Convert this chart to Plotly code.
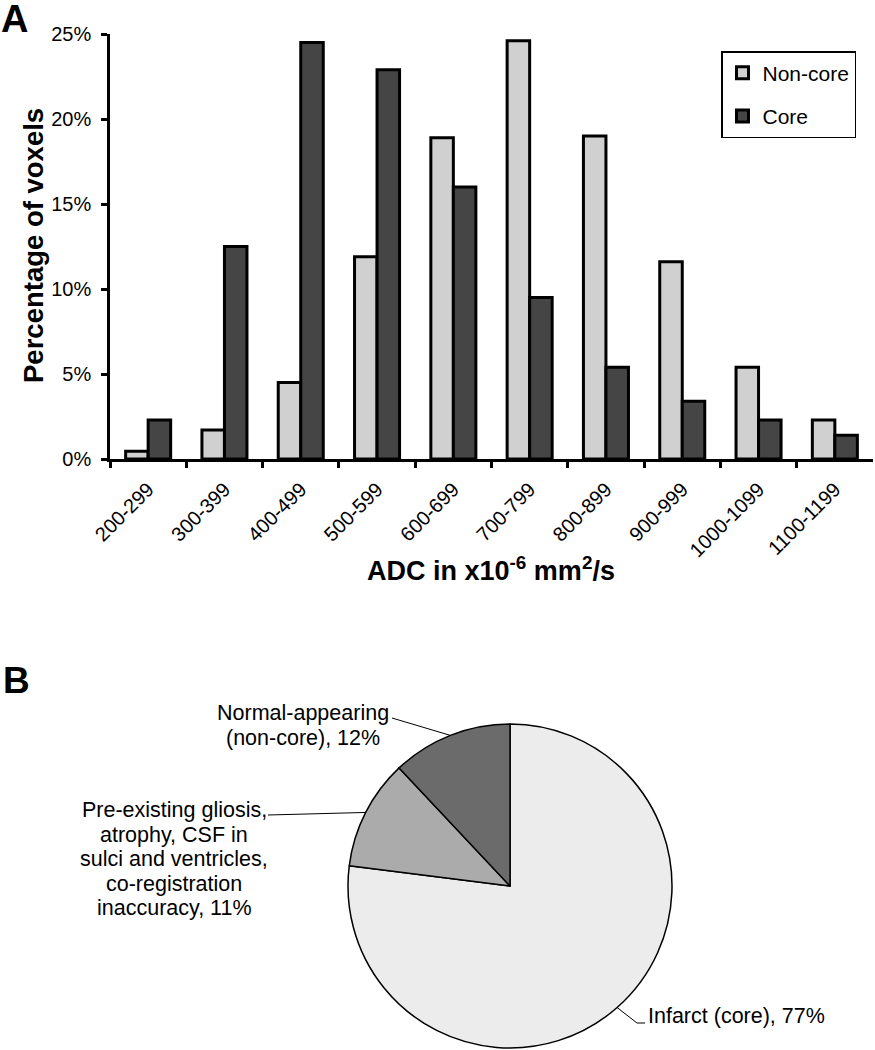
import math
import plotly.graph_objects as go

# ---- data ----
adc_bins = ["200-299", "300-399", "400-499", "500-599", "600-699",
            "700-799", "800-899", "900-999", "1000-1099", "1100-1199"]
non_core = [0.45, 1.7, 4.5, 11.9, 18.9, 24.6, 19.0, 11.6, 5.4, 2.3]
core = [2.3, 12.5, 24.5, 22.9, 16.0, 9.5, 5.4, 3.4, 2.3, 1.4]

slice_names = ["Infarct (core)",
               "Pre-existing gliosis, atrophy, CSF in sulci and ventricles, co-registration inaccuracy",
               "Normal-appearing (non-core)"]
slice_values = [77, 11, 12]
slice_label_lines = [
    ["Infarct (core), 77%"],
    ["Pre-existing gliosis,", "atrophy, CSF in", "sulci and ventricles,",
     "co-registration", "inaccuracy, 11%"],
    ["Normal-appearing", "(non-core), 12%"],
]

# ---- layout constants ----
W, H = 875, 1050
FONT = "Liberation Sans, Arial, sans-serif"
cx, cy, r = 510, 886, 162          # pie centre / radius in pixels
label_pos = [(646, 1016, "left"), (174, 810, "center"), (303, 713, "center")]
leader_end = [[(637, 1023), (645, 1023)], [(268, 815)], [(392, 718)]]
line_step = 24.5


def px(x):
    return x / W


def py(y):
    return 1 - y / H


fig = go.Figure()
fig.add_trace(go.Bar(x=adc_bins, y=non_core, name="Non-core", legendgroup="a",
                     marker=dict(color="#d0d0d0", line=dict(color="black", width=3))))
fig.add_trace(go.Bar(x=adc_bins, y=core, name="Core", legendgroup="b",
                     marker=dict(color="#454545", line=dict(color="black", width=3))))

fig.add_trace(go.Pie(labels=slice_names, values=slice_values, sort=False,
                     direction="clockwise", rotation=0, textinfo="none",
                     hoverinfo="label+percent", showlegend=False,
                     marker=dict(colors=["#ececec", "#ababab", "#6b6b6b"],
                                 line=dict(color="black", width=1.5)),
                     domain=dict(x=[px(cx - r), px(cx + r)], y=[py(cy + r), py(cy - r)])))

# leader lines from slice mid-angles, plus slice labels
shapes = []
annotations = []
total = sum(slice_values)
cum = 0
for i, v in enumerate(slice_values):
    theta = 2 * math.pi * (cum + v / 2) / total
    cum += v
    pts = [(cx + r * math.sin(theta), cy - r * math.cos(theta))] + leader_end[i]
    for (x0, y0), (x1, y1) in zip(pts[:-1], pts[1:]):
        shapes.append(dict(type="line", xref="paper", yref="paper",
                           x0=px(x0), y0=py(y0), x1=px(x1), y1=py(y1),
                           line=dict(color="black", width=1)))
    lx, ly, al = label_pos[i]
    for k, line in enumerate(slice_label_lines[i]):
        annotations.append(dict(text=line, xref="paper", yref="paper",
                                x=px(lx), y=py(ly + k * line_step),
                                xanchor=al, yanchor="middle", showarrow=False,
                                font=dict(size=21.5, color="black", family=FONT)))

annotations += [
    dict(text="<b>A</b>", x=px(-1), y=py(-4), xanchor="left", yanchor="top",
         font=dict(size=38)),
    dict(text="<b>B</b>", x=px(1), y=py(680), xanchor="left", yanchor="middle",
         font=dict(size=37)),
    dict(text="<b>Percentage of voxels</b>", x=px(33), y=py(246), textangle=-90,
         xanchor="center", yanchor="middle", font=dict(size=27.5)),
    dict(text="<b>ADC in x10<sup>-6</sup> mm<sup>2</sup>/s</b>", x=px(491), y=py(569),
         xanchor="center", yanchor="middle", font=dict(size=27)),
]
for a in annotations[-4:]:
    a.update(xref="paper", yref="paper", showarrow=False)
    a["font"].update(color="black", family=FONT)

fig.update_layout(
    width=W, height=H,
    margin=dict(l=0, r=0, t=0, b=0, autoexpand=False),
    paper_bgcolor="white", plot_bgcolor="white",
    font=dict(family=FONT, color="black", size=20),
    barmode="group", bargap=0.41, bargroupgap=0,
    xaxis=dict(domain=[px(110), px(873)], type="category", tickson="boundaries",
               ticks="outside", ticklen=6, tickwidth=2.5, tickcolor="black",
               showline=True, linewidth=2.5, linecolor="black", showgrid=False,
               tickangle=-45, tickfont=dict(size=20), ticklabelstandoff=8),
    yaxis=dict(domain=[py(459), py(34)], range=[0, 25], dtick=5, ticksuffix="%",
               ticks="outside", ticklen=6, tickwidth=2.5, tickcolor="black",
               showline=True, linewidth=2.5, linecolor="black", showgrid=False,
               zeroline=False, tickfont=dict(size=20), ticklabelstandoff=6),
    legend=dict(x=px(721), y=py(51), xanchor="left", yanchor="top",
                bordercolor="black", borderwidth=1.5, bgcolor="white",
                font=dict(size=21), tracegroupgap=13, itemwidth=30,
                traceorder="grouped"),
    shapes=shapes,
    annotations=annotations,
)

fig.write_html("out.html", config={"displayModeBar": False},
               post_script="document.body.style.margin='0';")
